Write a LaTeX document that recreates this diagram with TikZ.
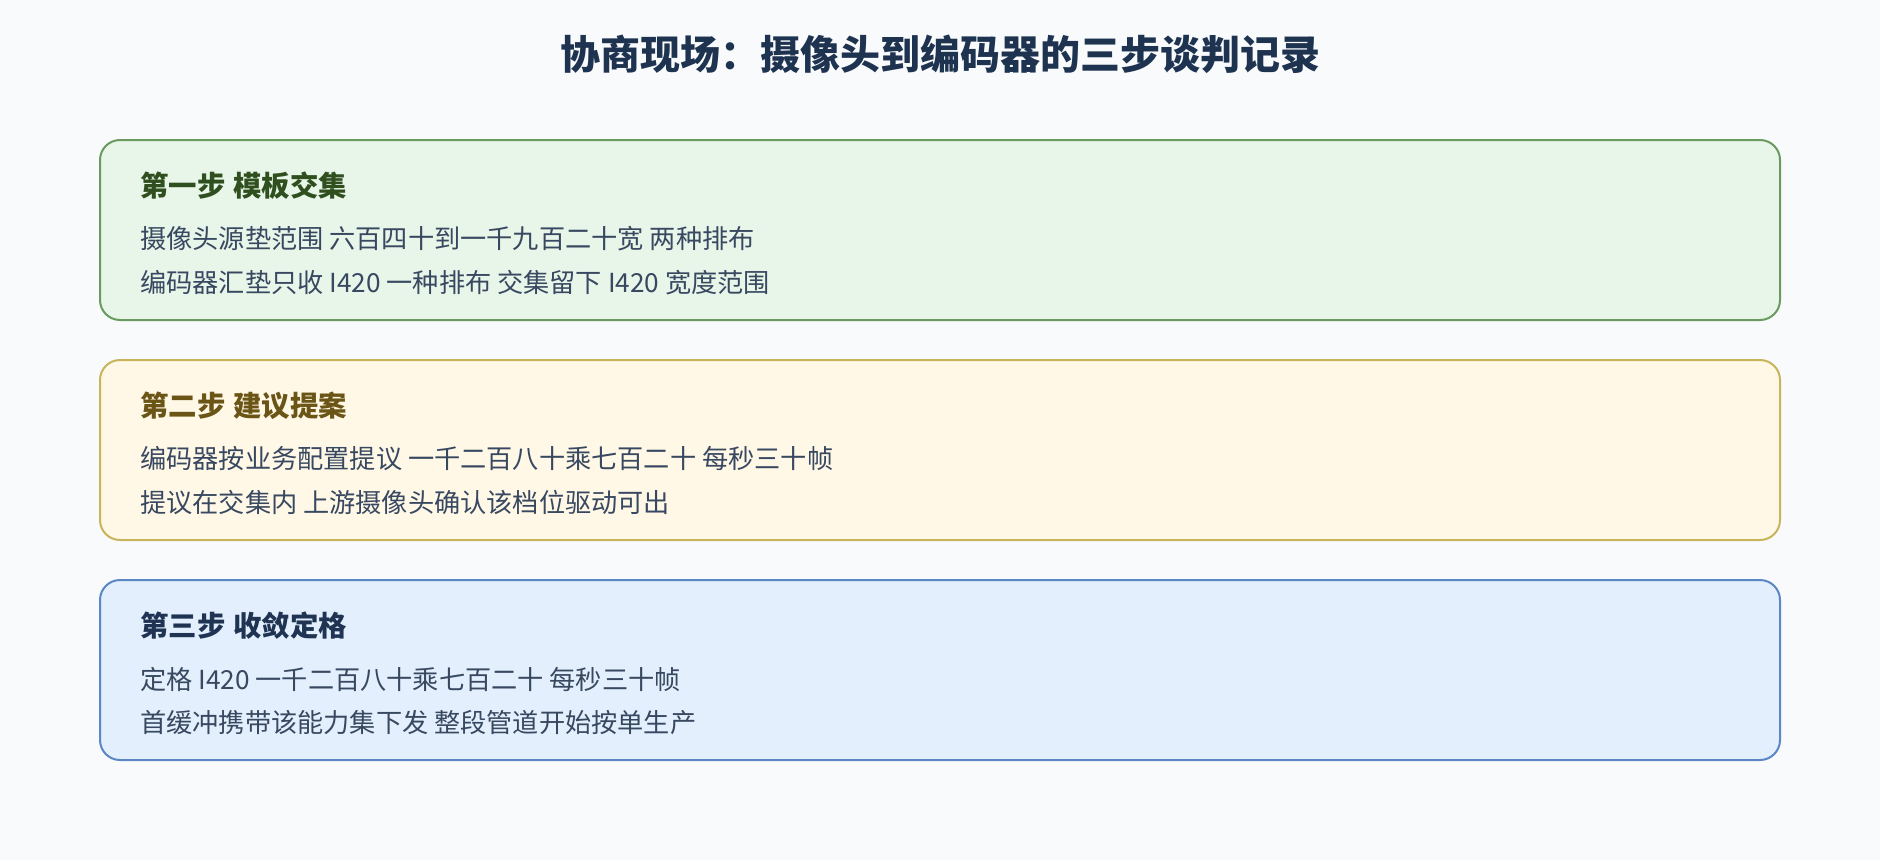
\documentclass[tikz,border=0pt]{standalone}
\usepackage{fontspec}
\setmainfont{Noto Sans CJK SC}
\newfontfamily\cjk{Noto Sans CJK SC}
\definecolor{bgc}{HTML}{F8FAFC}
\definecolor{titlec}{HTML}{1E3350}
\definecolor{bodyc}{HTML}{384860}
\definecolor{gfill}{HTML}{E8F5E9}
\definecolor{gline}{HTML}{6A9A5E}
\definecolor{ghead}{HTML}{2F4F1F}
\definecolor{yfill}{HTML}{FFF8E7}
\definecolor{yline}{HTML}{C8B45A}
\definecolor{yhead}{HTML}{6B5516}
\definecolor{bfill}{HTML}{E3EFFD}
\definecolor{bline}{HTML}{5B87C5}
\definecolor{bhead}{HTML}{1E3452}
\tikzset{
  panel/.style={rounded corners=15pt, line width=1.5pt},
  headtxt/.style={anchor=west, inner sep=0pt, font=\cjk\bfseries\fontsize{21.3pt}{25pt}\selectfont},
  bodytxt/.style={anchor=west, inner sep=0pt, text=bodyc, font=\cjk\fontsize{19.65pt}{23pt}\selectfont},
  titletxt/.style={inner sep=0pt, text=titlec, font=\cjk\bfseries\fontsize{30pt}{34pt}\selectfont}
}
\begin{document}
\begin{tikzpicture}[x=0.75pt,y=-0.75pt]
\fill[bgc] (0,0) rectangle (1880,860);
\useasboundingbox (0,0) rectangle (1880,860);
\node[titletxt] (title) at (940,54) {协商现场：摄像头到编码器的三步谈判记录};
% box 1
\draw[panel, fill=gfill, draw=gline] (100,140) rectangle (1780,320);
\node[headtxt, text=ghead] (h1) at (140,186) {第一步\hspace{0.28em}模板交集};
\node[bodytxt] (b1a) at (140,239) {摄像头源垫范围 六百四十到一千九百二十宽 两种排布};
\node[bodytxt] (b1b) at (140,283) {编码器汇垫只收 I420 一种排布 交集留下 I420 宽度范围};
% box 2
\draw[panel, fill=yfill, draw=yline] (100,360) rectangle (1780,540);
\node[headtxt, text=yhead] (h2) at (140,406) {第二步\hspace{0.28em}建议提案};
\node[bodytxt] (b2a) at (140,459) {编码器按业务配置提议 一千二百八十乘七百二十 每秒三十帧};
\node[bodytxt] (b2b) at (140,503) {提议在交集内 上游摄像头确认该档位驱动可出};
% box 3
\draw[panel, fill=bfill, draw=bline] (100,580) rectangle (1780,760);
\node[headtxt, text=bhead] (h3) at (140,626) {第三步\hspace{0.28em}收敛定格};
\node[bodytxt] (b3a) at (140,679) {定格 I420 一千二百八十乘七百二十 每秒三十帧};
\node[bodytxt] (b3b) at (140,723) {首缓冲携带该能力集下发 整段管道开始按单生产};
\end{tikzpicture}
\end{document}
